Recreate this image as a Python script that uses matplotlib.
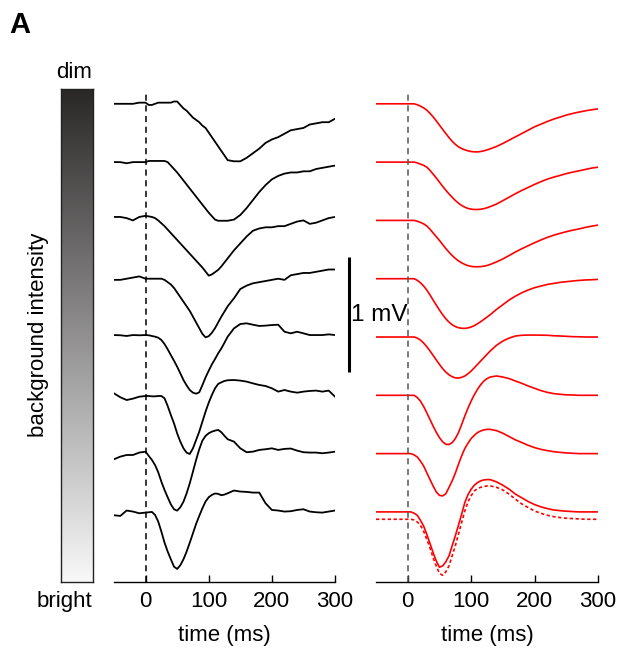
import matplotlib.pyplot as plt
import numpy as np
from matplotlib.colors import LinearSegmentedColormap

plt.rcParams['font.family'] = ['Liberation Sans', 'DejaVu Sans']

# sample times (ms): 10 ms steps, 5 ms steps through the response
time_ms = list(range(-50, 0, 10)) + list(range(0, 130, 5)) + list(range(130, 301, 10))

# recorded traces (mV), dim (top) to bright (bottom)
rec_1 = [0.00, 0.00, 0.00, 0.00, 0.01, 0.01,
         -0.01, -0.01, 0.00, 0.01, 0.01, 0.01, 0.01, 0.01, 0.02, 0.02, -0.01, -0.04, -0.06, -0.09, -0.12, -0.14,
         -0.16, -0.19, -0.21, -0.25, -0.29, -0.33, -0.37, -0.41, -0.45, -0.49,
         -0.50, -0.50, -0.47, -0.43, -0.39, -0.34, -0.31, -0.29, -0.26, -0.23, -0.22, -0.21, -0.18, -0.17, -0.16, -0.16, -0.13]
rec_2 = [0.00, 0.00, -0.01, 0.00, 0.00, 0.00,
         0.01, 0.01, 0.01, 0.01, 0.01, 0.01, 0.00, -0.03, -0.06, -0.09, -0.125, -0.16, -0.195, -0.23, -0.265, -0.30,
         -0.335, -0.37, -0.405, -0.44, -0.47, -0.50, -0.51, -0.51, -0.51, -0.51,
         -0.50, -0.46, -0.40, -0.33, -0.26, -0.20, -0.15, -0.12, -0.10, -0.09, -0.09, -0.08, -0.08, -0.06, -0.05, -0.04, -0.03]
rec_3 = [0.03, 0.03, 0.02, 0.00, 0.03, 0.04,
         0.035, 0.03, 0.02, 0.00, -0.025, -0.05, -0.08, -0.11, -0.14, -0.17, -0.20, -0.23, -0.26, -0.29, -0.32, -0.35,
         -0.38, -0.41, -0.445, -0.48, -0.47, -0.45, -0.43, -0.40, -0.365, -0.33,
         -0.26, -0.20, -0.14, -0.09, -0.07, -0.06, -0.06, -0.05, -0.05, -0.03, -0.01, 0.00, -0.03, -0.02, 0.00, 0.02, 0.03]
rec_4 = [-0.01, -0.01, 0.00, 0.01, 0.02, 0.00,
         0.00, 0.00, 0.00, 0.00, 0.00, -0.01, -0.03, -0.05, -0.08, -0.12, -0.16, -0.20, -0.24, -0.28, -0.33, -0.38,
         -0.43, -0.48, -0.51, -0.50, -0.47, -0.43, -0.38, -0.33, -0.285, -0.24,
         -0.17, -0.09, -0.06, -0.04, -0.03, -0.02, -0.01, 0.00, -0.01, 0.03, 0.04, 0.05, 0.05, 0.06, 0.07, 0.08, 0.08]
rec_5 = [0.017, 0.015, 0.009, 0.017, 0.015, 0.017,
         0.015, 0.009, 0.003, -0.006, -0.026, -0.061, -0.107, -0.157, -0.206, -0.258, -0.316, -0.374, -0.421, -0.461,
         -0.484, -0.493, -0.481, -0.418, -0.351, -0.293, -0.238, -0.191, -0.142, -0.099, -0.049, 0.003,
         0.075, 0.113, 0.119, 0.107, 0.096, 0.099, 0.104, 0.107, 0.046, 0.032, 0.046, 0.032, 0.017, 0.017, 0.017, 0.023, 0.017]
rec_6 = [0.017, -0.017, -0.041, -0.029, -0.012, -0.006,
         -0.006, -0.009, -0.009, -0.006, -0.006, -0.026, -0.093, -0.171, -0.244, -0.331, -0.403, -0.461, -0.499, -0.510,
         -0.461, -0.389, -0.316, -0.229, -0.142, -0.064, 0.003, 0.061, 0.099, 0.113, 0.125, 0.131,
         0.133, 0.128, 0.119, 0.104, 0.090, 0.081, 0.061, 0.032, 0.046, 0.032, 0.023, 0.032, 0.038, 0.041, 0.032, 0.041, -0.012]
rec_7 = [-0.049, -0.026, -0.012, -0.012, 0.009, 0.017,
         -0.020, -0.055, -0.099, -0.162, -0.244, -0.316, -0.380, -0.441, -0.484, -0.496, -0.467, -0.418, -0.345, -0.258,
         -0.157, -0.055, 0.038, 0.113, 0.154, 0.177, 0.191, 0.200, 0.206, 0.186, 0.154, 0.125,
         0.104, 0.046, 0.012, 0.017, 0.032, 0.038, 0.046, 0.032, 0.041, 0.044, 0.026, 0.012, 0.009, 0.009, 0.003, 0.009, 0.017]
rec_8 = [-0.029, -0.035, 0.012, 0.003, -0.012, -0.006,
         -0.003, 0.000, -0.026, -0.084, -0.171, -0.267, -0.345, -0.412, -0.476, -0.496, -0.464, -0.412, -0.345, -0.267,
         -0.186, -0.104, -0.035, 0.032, 0.090, 0.128, 0.148, 0.160, 0.157, 0.145, 0.151, 0.162,
         0.186, 0.177, 0.174, 0.168, 0.168, 0.075, 0.017, 0.012, 0.003, 0.006, 0.017, 0.023, 0.003, -0.003, -0.006, 0.003, 0.012]

# model traces (mV)
mod_1 = [0, 0, 0, 0, 0, 0,
         0, 0, -0.008, -0.020, -0.035, -0.055, -0.082, -0.113, -0.148, -0.185, -0.222, -0.258, -0.293, -0.325,
         -0.352, -0.374, -0.389, -0.400, -0.409, -0.415, -0.418, -0.418, -0.415, -0.409, -0.401, -0.392,
         -0.371, -0.345, -0.316, -0.287, -0.258, -0.229, -0.200, -0.177, -0.154, -0.133, -0.116, -0.098, -0.084,
         -0.072, -0.061, -0.052, -0.044]
mod_2 = [0, 0, 0, 0, 0, 0,
         0, 0, -0.007, -0.017, -0.028, -0.044, -0.071, -0.104, -0.138, -0.174, -0.210, -0.244, -0.276, -0.305,
         -0.333, -0.357, -0.377, -0.392, -0.403, -0.409, -0.412, -0.412, -0.410, -0.405, -0.397, -0.387,
         -0.365, -0.335, -0.305, -0.274, -0.246, -0.220, -0.194, -0.170, -0.148, -0.131, -0.116, -0.100, -0.087,
         -0.076, -0.064, -0.052, -0.044]
mod_3 = [0, 0, 0, 0, 0, 0,
         0, 0, -0.007, -0.017, -0.030, -0.048, -0.076, -0.109, -0.141, -0.174, -0.209, -0.244, -0.276, -0.305,
         -0.330, -0.352, -0.369, -0.383, -0.393, -0.400, -0.403, -0.403, -0.402, -0.398, -0.392, -0.383,
         -0.361, -0.335, -0.305, -0.274, -0.246, -0.220, -0.194, -0.170, -0.148, -0.129, -0.113, -0.098, -0.085,
         -0.074, -0.061, -0.050, -0.041]
mod_4 = [0, 0, 0, 0, 0, 0,
         0, 0, -0.014, -0.035, -0.063, -0.098, -0.140, -0.185, -0.229, -0.272, -0.312, -0.348, -0.377, -0.400,
         -0.416, -0.426, -0.431, -0.432, -0.428, -0.420, -0.408, -0.392, -0.374, -0.354, -0.334, -0.313,
         -0.267, -0.226, -0.185, -0.151, -0.122, -0.098, -0.078, -0.064, -0.050, -0.041, -0.032, -0.026, -0.020,
         -0.015, -0.011, -0.009, -0.006]
mod_5 = [0, 0, 0, 0, 0, 0,
         0, 0, -0.009, -0.026, -0.052, -0.084, -0.120, -0.159, -0.199, -0.238, -0.274, -0.305, -0.328, -0.345,
         -0.355, -0.357, -0.351, -0.339, -0.320, -0.296, -0.268, -0.238, -0.209, -0.180, -0.151, -0.122,
         -0.072, -0.035, -0.009, 0.009, 0.015, 0.017, 0.017, 0.016, 0.015, 0.011, 0.009, 0.006, 0.003,
         0.002, 0, 0, 0]
mod_6 = [0, 0, 0, 0, 0, 0,
         0, 0, -0.019, -0.050, -0.096, -0.151, -0.209, -0.267, -0.321, -0.368, -0.404, -0.426, -0.428, -0.412,
         -0.377, -0.325, -0.255, -0.180, -0.112, -0.050, 0.005, 0.052, 0.092, 0.124, 0.145, 0.159,
         0.168, 0.159, 0.145, 0.124, 0.104, 0.081, 0.061, 0.041, 0.026, 0.015, 0.009, 0.004, 0.003,
         0, 0, 0, 0]
mod_7 = [0, 0, 0, 0, 0, 0,
         0, -0.011, -0.029, -0.064, -0.107, -0.165, -0.224, -0.281, -0.333, -0.363, -0.368, -0.350, -0.295, -0.238,
         -0.171, -0.093, -0.020, 0.044, 0.090, 0.131, 0.159, 0.183, 0.197, 0.206, 0.211, 0.211,
         0.200, 0.177, 0.148, 0.119, 0.096, 0.072, 0.052, 0.037, 0.026, 0.017, 0.011, 0.006, 0.003,
         0, 0, 0, 0]
mod_8 = [0, 0, 0, 0, 0, 0,
         0, -0.011, -0.029, -0.072, -0.122, -0.194, -0.272, -0.354, -0.426, -0.481, -0.470, -0.435, -0.383, -0.296,
         -0.209, -0.116, -0.020, 0.081, 0.150, 0.197, 0.232, 0.255, 0.270, 0.278, 0.281, 0.281,
         0.261, 0.232, 0.197, 0.154, 0.122, 0.090, 0.064, 0.044, 0.029, 0.017, 0.011, 0.006, 0.003,
         0, 0, 0, 0]
mod_8_alt = [0, 0, 0, 0, 0, 0,
             0, -0.006, -0.023, -0.052, -0.102, -0.174, -0.246, -0.333, -0.406, -0.470, -0.487, -0.458, -0.406, -0.319,
             -0.232, -0.131, -0.029, 0.072, 0.150, 0.205, 0.246, 0.267, 0.278, 0.284, 0.290, 0.290,
             0.278, 0.255, 0.218, 0.174, 0.133, 0.102, 0.072, 0.052, 0.035, 0.023, 0.015, 0.009, 0.006,
             0.003, 0, 0, 0]

recorded = [rec_1, rec_2, rec_3, rec_4, rec_5, rec_6, rec_7, rec_8]
model = [mod_1, mod_2, mod_3, mod_4, mod_5, mod_6, mod_7, mod_8]

spacing = 0.507      # vertical offset between traces (mV)
alt_shift = -0.064   # dotted model drawn a bit lower

fig = plt.figure(figsize=(6.22, 6.57), dpi=100)
ax_l = fig.add_axes([0.1833, 0.1146, 0.3553, 0.7484])
ax_r = fig.add_axes([0.6045, 0.1146, 0.3569, 0.7484])
ax_c = fig.add_axes([0.0981, 0.1146, 0.0514, 0.7495])

for i, tr in enumerate(recorded):
    ax_l.plot(time_ms, np.array(tr) - i * spacing, color='black', lw=1.3)
for i, tr in enumerate(model):
    ax_r.plot(time_ms, np.array(tr) - i * spacing, color='red', lw=1.2)
ax_r.plot(time_ms, np.array(mod_8_alt) - 7 * spacing + alt_shift, color='red', lw=1.2, ls=(0, (2, 1.5)))

for ax, c in ((ax_l, 'black'), (ax_r, '#555555')):
    ax.patch.set_visible(False)
    ax.axvline(0, color=c, lw=1.1, ls=(0, (4, 3)))
    ax.set_xlim(-50, 300)
    ax.set_ylim(-4.156, 0.12)
    for s in ('top', 'right', 'left'):
        ax.spines[s].set_visible(False)
    ax.spines['bottom'].set_linewidth(1)
    ax.set_yticks([])
    ax.set_xticks([0, 100, 200, 300])
    ax.tick_params(axis='x', direction='in', length=5, width=1, labelsize=16, pad=7)
    ax.set_xlabel('time (ms)', fontsize=16, labelpad=9)

# scale bar
ax_l.plot([322, 322], [-1.33, -2.33], color='black', lw=2.2, clip_on=False, solid_capstyle='butt')
ax_l.text(326, -1.837, '1 mV', fontsize=17.5, ha='left', va='center', clip_on=False, zorder=5)

# intensity bar
cmap = LinearSegmentedColormap.from_list('bg', ['#2a2727', '#f8f8f8'])
ax_c.imshow(np.linspace(0, 1, 256).reshape(-1, 1), aspect='auto', cmap=cmap)
ax_c.set_xticks([])
ax_c.set_yticks([])
for s in ax_c.spines.values():
    s.set_linewidth(1)
    s.set_color('#222222')

fig.text(0.148, 0.8904, 'dim', fontsize=16, ha='right', va='center')
fig.text(0.148, 0.0852, 'bright', fontsize=16, ha='right', va='center')
fig.text(0.0611, 0.4901, 'background intensity', fontsize=16, rotation=90, ha='center', va='center')
fig.text(0.0145, 0.9498, 'A', fontsize=21, fontweight='bold', ha='left', va='baseline')

fig.savefig('out.png', dpi=100)
